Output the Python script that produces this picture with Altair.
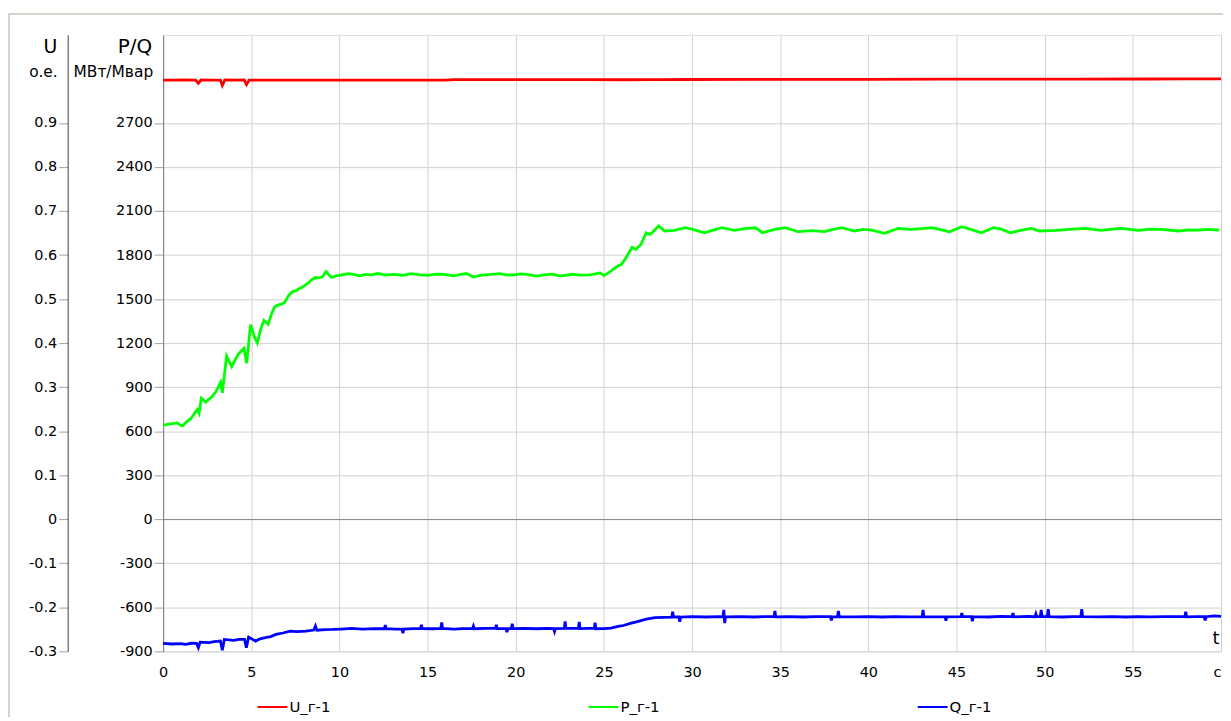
import altair as alt
import pandas as pd

# ---------------- data ----------------
series_names = ["U_г-1", "P_г-1", "Q_г-1"]
series_colors = ["#ff0000", "#00ff00", "#0000ff"]

P_t = [0.0, 0.3, 0.55, 0.8, 1.0, 1.1, 1.3, 1.57, 1.8, 1.94, 2.04, 2.17, 2.42, 2.79, 3.0,
       3.26, 3.36, 3.6, 3.89, 4.1, 4.3, 4.59, 4.74, 4.96, 5.15, 5.34, 5.55, 5.72, 5.96,
       6.15, 6.34, 6.6, 6.75, 6.9, 7.1, 7.32, 7.55, 7.7, 7.89, 8.1, 8.26, 8.45, 8.64,
       8.85, 9.02, 9.25, 9.4, 9.55, 9.8, 10.06, 10.5, 10.8, 11.1, 11.5, 11.8, 12.2, 12.6,
       13.1, 13.6, 14.06, 14.5, 15.0, 15.5, 15.9, 16.5, 16.9, 17.2, 17.6, 18.1, 18.6,
       19.1, 19.5, 19.9, 20.3, 20.6, 21.2, 21.7, 22.1, 22.5, 22.9, 23.2, 23.7, 24.2,
       24.8, 25.0, 25.4, 25.7, 26.0, 26.3, 26.6, 26.8, 27.1, 27.4, 27.6, 27.8, 28.1,
       28.45, 29.0, 29.6, 30.04, 30.7, 31.2, 31.7, 32.4, 33.1, 33.6, 34.0, 34.7, 35.3,
       36.0, 36.8, 37.5, 38.0, 38.5, 39.2, 39.7, 40.2, 40.9, 41.7, 42.4, 43.0, 43.6,
       44.6, 45.3, 45.8, 46.4, 47.1, 47.5, 48.05, 48.7, 49.25, 49.7, 50.6, 51.4, 52.3,
       53.2, 54.3, 55.3, 56.0, 56.6, 57.6, 58.2, 58.7, 59.3, 59.9]
P_v = [640, 648, 652, 656, 640, 636, 660, 685, 725, 748, 722, 825, 798, 838, 870,
       933, 862, 1112, 1040, 1090, 1130, 1164, 1063, 1326, 1250, 1202, 1300, 1355, 1328,
       1400, 1449, 1462, 1467, 1479, 1520, 1550, 1557, 1570, 1580, 1598, 1613, 1635, 1647,
       1645, 1650, 1688, 1665, 1647, 1658, 1663, 1674, 1668, 1658, 1668, 1665, 1674, 1663,
       1669, 1662, 1674, 1666, 1662, 1670, 1669, 1658, 1668, 1674, 1651, 1664, 1669,
       1674, 1664, 1665, 1672, 1669, 1656, 1666, 1669, 1656, 1664, 1669, 1663, 1665,
       1678, 1660, 1690, 1719, 1737, 1790, 1854, 1838, 1872, 1951, 1941, 1960, 1998,
       1964, 1968, 1986, 1975, 1952, 1970, 1986, 1968, 1982, 1986, 1952, 1975, 1986,
       1959, 1966, 1959, 1975, 1986, 1964, 1975, 1970, 1948, 1982, 1975, 1980, 1986,
       1959, 1993, 1975, 1952, 1986, 1978, 1952, 1970, 1982, 1964, 1968, 1975, 1982,
       1968, 1982, 1968, 1976, 1975, 1964, 1972, 1970, 1975, 1970]

Q_t = [0.0, 0.5, 1.0, 1.28, 1.6, 1.9, 2.0, 2.1, 2.6, 2.9, 3.25, 3.36, 3.47, 4.0, 4.3,
       4.62, 4.72, 4.85, 5.25, 5.5, 5.8, 6.1, 6.4, 6.8, 7.2, 7.6, 8.1, 8.55, 8.64, 8.72,
       9.2, 9.6, 10.1, 10.7, 11.3, 12.0, 12.55, 12.6, 12.65, 13.2, 13.55, 13.6, 13.65,
       14.2, 14.6, 14.65, 14.7, 15.3, 15.75, 15.8, 15.85, 16.5, 17.0, 17.55, 17.6, 17.65,
       18.3, 18.85, 18.9, 18.95, 19.45, 19.5, 19.55, 19.75, 19.8, 19.85, 20.5, 21.2, 21.8,
       22.15, 22.2, 22.25, 22.75, 22.8, 22.85, 23.55, 23.6, 23.65, 24.1, 24.45, 24.5, 24.55,
       25.0, 25.4, 25.8, 26.1, 26.5, 26.9, 27.4, 27.9, 28.4, 28.85, 28.9, 28.95, 29.25,
       29.3, 29.35, 30.0, 30.8, 31.5, 31.75, 31.8, 31.85, 31.9, 32.8, 33.5, 34.2, 34.65,
       34.7, 34.75, 35.5, 36.3, 37.0, 37.85, 37.9, 37.95, 38.25, 38.3, 38.35, 39.2, 40.0,
       40.8, 41.5, 42.3, 43.05, 43.1, 43.15, 43.8, 44.35, 44.4, 44.45, 45.25, 45.3, 45.35,
       45.85, 45.9, 45.95, 46.8, 47.5, 48.15, 48.2, 48.25, 49.0, 49.45, 49.5, 49.55, 49.75,
       49.8, 49.85, 50.15, 50.2, 50.25, 51.0, 51.6, 52.05, 52.1, 52.15, 53.0, 53.8, 54.6,
       55.3, 56.0, 56.8, 57.5, 57.95, 58.0, 58.05, 58.6, 59.05, 59.1, 59.15, 59.6, 60.0]
Q_v = [-846, -850, -848, -853, -845, -846, -875, -837, -840, -834, -830, -893, -819, -825, -818,
       -819, -875, -803, -830, -815, -807, -800, -785, -775, -762, -765, -762, -755, -728, -756,
       -752, -751, -748, -744, -748, -745, -746, -722, -746, -748, -748, -776, -748,
       -745, -745, -720, -745, -746, -744, -704, -744, -748, -745, -745, -728, -746,
       -744, -744, -720, -745, -746, -770, -746, -745, -712, -745, -744, -746, -744,
       -745, -765, -745, -744, -697, -744, -744, -700, -745, -743, -744, -705, -746,
       -745, -742, -730, -724, -710, -697, -681, -670, -668, -667, -631, -666, -666,
       -699, -666, -664, -666, -664, -665, -618, -708, -665, -664, -666, -663, -664,
       -625, -665, -664, -666, -663, -664, -690, -665, -664, -625, -664, -665, -664,
       -666, -664, -665, -664, -618, -664, -665, -665, -692, -665, -664, -640, -664,
       -664, -695, -664, -666, -662, -664, -640, -665, -662, -664, -645, -664, -664,
       -618, -664, -664, -613, -664, -666, -664, -664, -613, -664, -665, -663, -666,
       -664, -665, -663, -664, -664, -630, -665, -664, -664, -690, -664, -658, -662]

U_t = [0.0, 0.6, 1.2, 1.85, 2.0, 2.15, 2.8, 3.25, 3.36, 3.5, 4.2, 4.6, 4.73, 4.88, 6.0,
       8.0, 10.0, 12.0, 14.0, 16.0, 16.5, 18.0, 20.0, 22.0, 24.0, 26.0, 28.0, 30.0, 33.0,
       36.0, 40.0, 44.0, 48.0, 52.0, 56.0, 58.0, 60.0]
U_v = [0.9975, 0.9972, 0.9976, 0.9974, 0.9900, 0.9975, 0.9972, 0.9974, 0.9850, 0.9975,
       0.9973, 0.9975, 0.9870, 0.9974, 0.9972, 0.9973, 0.9972, 0.9973, 0.9972, 0.9974,
       0.9982, 0.9983, 0.9982, 0.9984, 0.9983, 0.9981, 0.9985, 0.9987, 0.9988, 0.9990,
       0.9992, 0.9993, 0.9995, 0.9996, 0.9998, 1.0002, 1.0003]

x_ticks = list(range(0, 61, 5))
pq_ticks = list(range(-900, 2701, 300))
u_ticks = [-0.3, -0.2, -0.1, 0, 0.1, 0.2, 0.3, 0.4, 0.5, 0.6, 0.7, 0.8, 0.9]

# ---------------- chart ----------------
FONT = "DejaVu Sans"
W, H = 1064, 620

pq_df = pd.DataFrame({
    "t": P_t + Q_t,
    "v": P_v + Q_v,
    "s": [series_names[1]] * len(P_t) + [series_names[2]] * len(Q_t),
})
u_df = pd.DataFrame({"t": U_t, "u": U_v, "s": [series_names[0]] * len(U_t)})

legend = alt.Legend(
    orient="none", legendX=94, legendY=660, direction="horizontal", title=None,
    symbolType="stroke", symbolSize=900, symbolStrokeWidth=2, labelFont=FONT,
    labelFontSize=15, labelColor="#000000", labelOffset=1, columnPadding=255,
)
color = alt.Color("s:N", scale=alt.Scale(domain=series_names, range=series_colors), legend=legend)

x_enc = alt.X(
    "t:Q",
    scale=alt.Scale(domain=[0, 60], nice=False, zero=False),
    axis=alt.Axis(
        values=x_ticks, ticks=False, domain=False, grid=True, gridColor="#d2d2d2",
        labelExpr="datum.value == 60 ? 'c' : datum.label",
        labelAlign=alt.condition("datum.value == 60", alt.value("right"), alt.value("center")),
        labelFont=FONT, labelFontSize=14.5, labelColor="#000000", labelPadding=14,
        title="t", titleX=W - 2, titleY=-13, titleAlign="right", titleBaseline="middle",
        titleFont=FONT, titleFontSize=18, titleFontWeight="normal", titleColor="#000000",
    ),
)

pq_line = alt.Chart(pq_df).mark_line(strokeWidth=2.8).encode(
    x=x_enc,
    y=alt.Y(
        "v:Q",
        scale=alt.Scale(domain=[-900, 3300], nice=False, zero=False),
        axis=alt.Axis(
            values=pq_ticks, title=None, orient="left", grid=True,
            gridColor=alt.condition("datum.value == 0", alt.value("#808080"), alt.value("#d2d2d2")),
            tickSize=9, tickColor="#a0a0a0", domainColor="#7a7a7a",
            labelExpr="datum.value < 0 ? '-' + format(-datum.value, 'd') : format(datum.value, 'd')",
            labelFont=FONT, labelFontSize=14.5, labelColor="#000000", labelPadding=2,
        ),
    ),
    color=color,
)

u_line = alt.Chart(u_df).mark_line(strokeWidth=2.8).encode(
    x=x_enc,
    y=alt.Y(
        "u:Q",
        scale=alt.Scale(domain=[-0.3, 1.1], nice=False, zero=False),
        axis=alt.Axis(
            values=u_ticks, title=None, orient="left", offset=96, grid=False,
            tickSize=9, tickColor="#a0a0a0", domainColor="#404040",
            labelExpr="datum.value < 0 ? '-' + format(-datum.value, '~g') : format(datum.value, '~g')",
            labelFont=FONT, labelFontSize=14.5, labelColor="#000000", labelPadding=2,
        ),
    ),
    color=color,
)

one = pd.DataFrame({"a": [0]})


def label(txt, x, y, size):
    return alt.Chart(one).mark_text(
        text=txt, font=FONT, fontSize=size, align="right", baseline="middle", color="#000000"
    ).encode(x=alt.value(x), y=alt.value(y))


texts = [
    label("U", -106.5, 12, 19),
    label("o.e.", -106, 37, 15.5),
    label("P/Q", -11, 12, 20),
    label("МВт/Мвар", -10, 37, 15.5),
]

frame_top = alt.Chart(one).mark_rule(color="#d6d3cc", strokeWidth=2).encode(
    x=alt.value(-156), x2=alt.value(W + 2), y=alt.value(-21)
)
frame_left = alt.Chart(one).mark_rule(color="#d6d3cc", strokeWidth=2).encode(
    x=alt.value(-155), y=alt.value(-21), y2=alt.value(H + 70)
)

chart = alt.layer(pq_line, u_line, *texts, frame_top, frame_left).resolve_scale(
    y="independent"
).properties(
    width=W, height=H,
    autosize=alt.AutoSizeParams(type="none"),
    padding={"left": 156, "top": 25, "right": 2, "bottom": 64},
).configure_view(
    stroke="#c8c8c8", strokeWidth=1
).configure(background="#ffffff")

chart.save("out.html", embed_options={"renderer": "svg", "actions": False})
